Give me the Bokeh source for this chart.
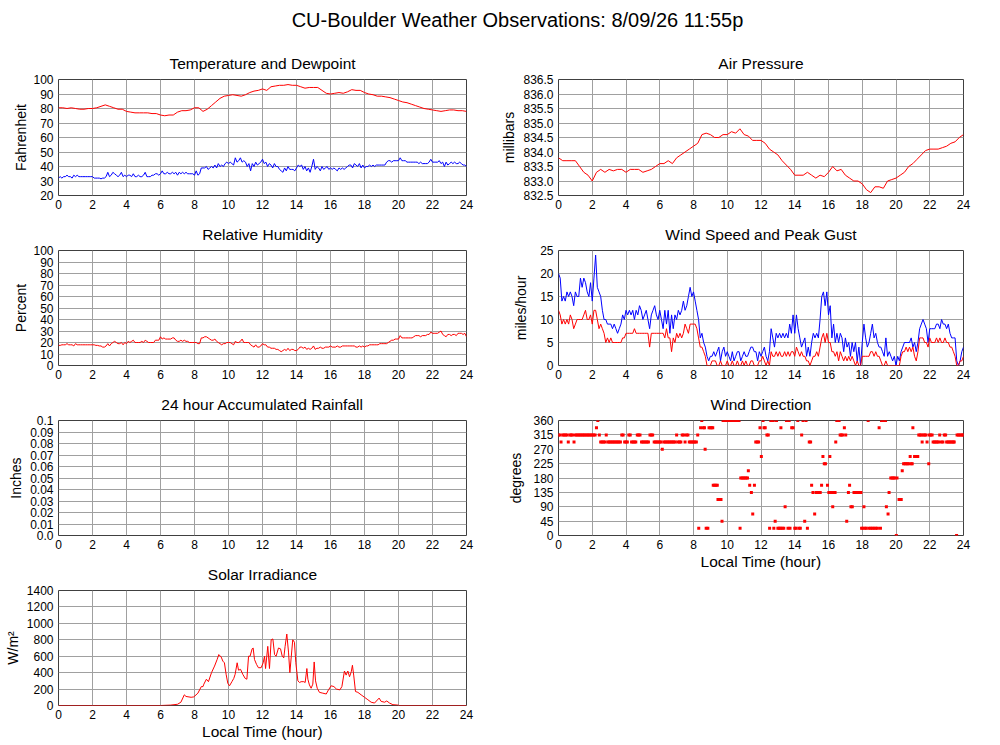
import numpy as np
from bokeh.plotting import figure
from bokeh.layouts import column, row
from bokeh.models import FixedTicker, Range1d, CustomJSTickFormatter, NumeralTickFormatter
from bokeh.core.properties import value
from bokeh.embed import file_html
from bokeh.resources import INLINE

FONT = "Liberation Sans"
RED = "#ff0000"
BLUE = "#0000ff"
GRID = "#a0a0a0"

MAIN_TITLE = "CU-Boulder Weather Observations: 8/09/26 11:55p"
hour_ticks = [0, 2, 4, 6, 8, 10, 12, 14, 16, 18, 20, 22, 24]

# ---------------- data ----------------
# temperature, every 15 minutes (F)
temp_f = [80.5, 80.5, 80, 80.5, 80, 79.5, 79.5, 80,
          80, 80.5, 81.5, 82.5, 81.5, 80.5, 79.5, 79.5,
          78, 77.5, 77, 77, 77, 77, 76.5, 76.5,
          75.5, 75, 75.5, 75.5, 77.5, 78.5, 78.5, 79,
          80.5, 80.5, 78, 79.5, 82, 84.5, 87, 88.5,
          89, 89.5, 89, 88.5, 89.5, 91, 92, 92.5,
          93.5, 92.5, 95, 95.5, 96, 96, 96.5, 96,
          96, 95, 94, 94.5, 94.5, 94.5, 92.5, 90.5,
          90, 90.5, 91, 90.5, 91.5, 93, 92.5, 92.5,
          91, 90, 89.5, 88.5, 88.5, 88, 87.5, 86.5,
          85.5, 84.5, 84, 83, 82, 81, 80, 79.5,
          79, 78.5, 78, 78.5, 79, 79, 78.5, 78.5,
          78]

# dewpoint, every 6 minutes (F)
dewpoint_f = [32, 33, 32, 33, 33, 34, 33, 33, 32, 34,
              33, 34, 33, 33, 33, 33, 33, 33, 33, 33,
              33, 32, 32, 32, 32, 31.5, 32, 32, 33, 36,
              33, 34, 36, 35, 34, 33, 34, 36, 33, 34,
              33, 34, 34, 33, 35, 33, 33, 34, 33, 33,
              34, 36, 33, 33, 33, 34, 34, 35, 35, 34,
              35, 37, 35, 35, 36, 35, 35, 36, 35, 36,
              34, 36, 35, 36, 35, 36, 35, 35, 35, 35,
              34, 37, 34, 35, 39, 39, 39, 40, 38, 39,
              40, 39, 41, 39, 42, 40, 41, 40, 42, 43,
              42, 43, 42, 41, 46, 43, 44, 46, 43, 44,
              43, 40, 42, 37, 42, 40, 43, 41, 42, 43,
              45, 42, 43, 40, 42, 41, 39, 42, 40, 40,
              38, 37, 36, 39, 37, 40, 38, 38, 38, 37,
              39, 41, 40, 41, 38, 40, 37, 39, 36, 40,
              45, 38, 40, 39, 37, 40, 38, 39, 40, 38,
              39, 38, 39, 38, 37, 39, 38, 39, 38, 39,
              40, 41, 41, 39, 42, 41, 40, 42, 39, 41,
              39, 40, 40, 41, 40, 41, 40, 41, 41, 41,
              41, 41, 41, 43, 44, 44, 43, 44, 44, 44,
              44, 46, 44, 44, 44, 43, 43, 43, 43, 43,
              43, 43, 42, 43, 42, 42, 42, 42, 43, 45,
              43, 43, 43, 43, 44, 42, 43, 40, 43, 41,
              42, 43, 42, 43, 42, 42, 43, 42, 41, 41,
              40]

# air pressure, every 15 minutes (mb)
pressure_mb = [833.8, 833.7, 833.7, 833.7, 833.7, 833.5, 833.3, 833.2,
               833.0, 833.3, 833.4, 833.3, 833.4, 833.35, 833.4, 833.4,
               833.3, 833.4, 833.4, 833.4, 833.3, 833.35, 833.4, 833.5,
               833.6, 833.6, 833.7, 833.6, 833.8, 833.9, 834.0, 834.1,
               834.2, 834.3, 834.6, 834.65, 834.6, 834.5, 834.5, 834.6,
               834.6, 834.7, 834.65, 834.8, 834.6, 834.55, 834.4, 834.4,
               834.4, 834.3, 834.1, 834.0, 833.9, 833.7, 833.55, 833.4,
               833.2, 833.2, 833.2, 833.3, 833.2, 833.1, 833.2, 833.15,
               833.3, 833.5, 833.35, 833.4, 833.2, 833.1, 833.0, 833.0,
               832.9, 832.7, 832.6, 832.8, 832.8, 832.75, 833.0, 833.05,
               833.1, 833.2, 833.3, 833.5, 833.6, 833.75, 833.9, 834.05,
               834.1, 834.1, 834.1, 834.15, 834.2, 834.3, 834.35, 834.5,
               834.6]

# relative humidity, every 6 minutes (%)
humidity_pct = [17.5, 17.5, 18, 18, 18, 19, 18, 18, 18, 17,
                19, 18, 18, 18, 18, 18, 18, 18, 18, 18,
                18, 18, 17.5, 17.5, 17, 17, 16, 16, 17, 19,
                17, 19, 20, 21, 20, 19, 19, 20, 18, 20,
                19, 21, 20, 21, 22, 20, 20, 20, 20, 21,
                20, 22, 21, 20, 20, 20, 20, 22, 22, 22,
                25, 23, 24, 23, 23, 23, 23, 24, 24, 22,
                21, 21, 22, 21, 22, 21, 21, 20, 20, 20,
                20, 20, 19, 19, 24, 24, 25, 25, 24, 23,
                22, 22, 23, 21, 20, 19, 18, 19, 19, 20,
                20, 20, 19, 18, 21, 20, 20, 21, 23, 20,
                20, 20, 20, 18, 17, 16, 18, 16, 16, 17,
                19, 18, 18, 16, 16, 15, 15, 15, 14, 14,
                13, 12, 13, 14, 13, 15, 13, 14, 14, 13,
                13, 14, 16, 16, 15, 16, 14, 15, 14, 15,
                17, 14, 15, 15, 16, 15, 15, 16, 16, 16,
                17, 16, 16, 16, 17, 16, 16, 17, 17, 17,
                17, 17, 17, 17, 17, 16, 16, 17, 16, 17,
                16, 17, 17, 18, 18, 18, 18, 18, 18, 19,
                19, 19, 19, 19, 20, 21, 22, 22, 23, 23,
                23, 26, 24, 24, 24, 24, 24, 24, 24, 25,
                26, 26, 26, 25, 26, 26, 26, 27, 27, 29,
                28, 28, 28, 28, 29, 30, 27, 26, 25, 27,
                27, 26, 27, 27, 26, 28, 28, 28, 27, 28,
                25]

# peak gust and wind speed, every 6 minutes (mph)
gust_mph = [20, 19, 14, 15, 14, 16, 15, 16, 15, 13,
            16, 15, 15, 19, 17, 19, 18, 16, 15, 18,
            14, 19, 24, 17, 16, 15, 12, 10, 10, 9,
            9, 9, 8, 9, 8, 7, 8, 9, 11, 10,
            12, 11, 12, 11, 12, 10, 12, 11, 13, 12,
            10, 11, 12, 10, 8, 11, 12, 13, 11, 10,
            12, 10, 8, 12, 9, 12, 7, 11, 8, 11,
            10, 12, 11, 12, 14, 12, 13, 15, 17, 15,
            16, 14, 12, 10, 6, 7, 5, 4, 2, 1,
            2, 2, 3, 2, 3, 4, 1, 3, 4, 2,
            3, 2, 1, 3, 1, 2, 3, 3, 1, 2,
            3, 2, 2, 3, 4, 4, 3, 3, 1, 3,
            2, 3, 4, 2, 1, 3, 8, 6, 4, 7,
            6, 7, 6, 7, 6, 7, 6, 9, 7, 11,
            7, 11, 8, 6, 4, 5, 6, 2, 4, 2,
            5, 7, 6, 7, 6, 10, 15, 16, 13, 16,
            11, 13, 6, 9, 5, 7, 5, 7, 6, 3,
            6, 4, 5, 2, 5, 3, 5, 1, 4, 0,
            5, 9, 6, 4, 5, 7, 9, 6, 7, 5,
            4, 4, 3, 2, 6, 2, 3, 2, 1, 2,
            0, 2, 1, 3, 4, 5, 5, 5, 5, 6,
            4, 5, 3, 5, 8, 9, 10, 9, 8, 5,
            8, 8, 8, 8, 9, 9, 8, 10, 9, 9,
            8, 9, 7, 6, 6, 6, 1, 0, 1, 3,
            4]

speed_mph = [12, 11, 9, 10, 9, 10, 9, 11, 10, 8,
             9, 10, 10, 10, 10, 11, 12, 10, 10, 11,
             9, 12, 12, 10, 8, 9, 8, 7, 5, 6,
             5, 6, 5, 5, 5, 5, 5, 5, 6, 6,
             7, 7, 7, 7, 7, 8, 7, 7, 7, 7,
             7, 7, 7, 7, 4, 7, 7, 7, 7, 7,
             7, 7, 7, 6, 8, 6, 6, 3, 6, 5,
             7, 6, 7, 6, 7, 9, 8, 7, 9, 9,
             9, 9, 8, 6, 4, 4, 3, 2, 0, 0,
             0, 1, 1, 1, 0, 0, 1, 0, 0, 0,
             1, 0, 0, 1, 0, 0, 1, 0, 0, 1,
             0, 1, 0, 0, 1, 1, 0, 0, 0, 1,
             1, 2, 1, 0, 1, 0, 3, 2, 2, 3,
             2, 3, 2, 2, 3, 2, 3, 2, 3, 3,
             2, 4, 3, 2, 3, 2, 2, 1, 1, 0,
             1, 2, 2, 3, 2, 4, 6, 7, 5, 7,
             5, 5, 3, 3, 2, 3, 1, 3, 2, 1,
             2, 1, 2, 1, 2, 1, 0, 1, 0, 0,
             2, 2, 2, 2, 2, 3, 3, 2, 3, 2,
             2, 1, 0, 0, 1, 0, 0, 0, 0, 0,
             0, 0, 0, 2, 3, 3, 4, 3, 4, 3,
             4, 2, 1, 3, 6, 6, 6, 5, 5, 4,
             6, 5, 5, 5, 6, 5, 6, 5, 5, 6,
             5, 5, 4, 4, 3, 2, 0, 0, 1, 1,
             2]

# wind direction observations (hour, degrees)
dir_hour = [0.00, 0.08, 0.15, 0.25, 0.33, 0.42, 0.50, 0.58, 0.67, 0.75, 0.83, 0.92,
            1.00, 1.08, 1.17, 1.25, 1.33, 1.42, 1.50, 1.58, 1.67, 1.75, 1.83, 1.92,
            2.00, 2.08, 2.17, 2.25, 2.33, 2.42, 2.50, 2.58, 2.67, 2.75, 2.83, 2.92,
            3.00, 3.08, 3.17, 3.25, 3.33, 3.42, 3.50, 3.58, 3.67, 3.75, 3.83, 3.92,
            4.00, 4.08, 4.17, 4.25, 4.33, 4.42, 4.50, 4.58, 4.67, 4.75, 4.83, 4.92,
            5.00, 5.08, 5.17, 5.25, 5.33, 5.42, 5.50, 5.58, 5.67, 5.75, 5.83, 5.92,
            6.00, 6.08, 6.15, 6.25, 6.33, 6.42, 6.50, 6.58, 6.67, 6.75, 6.83, 6.92,
            7.00, 7.08, 7.17, 7.25, 7.33, 7.42, 7.50, 7.58, 7.67, 7.75, 7.83, 7.92,
            8.00, 8.08, 8.17, 8.25, 8.31, 8.42, 8.49, 8.58, 8.65, 8.69, 8.75, 8.85, 8.92,
            9.00, 9.08, 9.14, 9.17, 9.25, 9.33, 9.41, 9.45, 9.55, 9.63, 9.69,
            9.75, 9.80, 9.85, 9.90, 9.95, 10.00, 10.05, 10.10, 10.15, 10.20,
            10.25, 10.30, 10.35, 10.40, 10.45, 10.50, 10.55, 10.60, 10.65, 10.70,
            10.76, 10.80, 10.88, 10.96, 11.04, 11.12, 11.20, 11.25, 11.33, 11.43, 11.51, 11.61, 11.69, 11.78, 11.86, 11.94,
            12.02, 12.12, 12.18, 12.25, 12.35, 12.43, 12.51, 12.58, 12.65, 12.73, 12.76, 12.84, 12.92,
            13.00, 13.08, 13.16, 13.18, 13.26, 13.35, 13.43, 13.51, 13.60, 13.67, 13.72, 13.82, 13.90,
            14.00, 14.08, 14.18, 14.25, 14.33, 14.41, 14.49, 14.59, 14.67, 14.75, 14.86, 14.94,
            15.00, 15.08, 15.18, 15.27, 15.35, 15.43, 15.51, 15.59, 15.67, 15.75, 15.82, 15.94,
            16.02, 16.08, 16.10, 16.22, 16.25, 16.33, 16.39, 16.43, 16.49, 16.56, 16.63, 16.69, 16.76, 16.84, 16.94,
            17.02, 17.08, 17.18, 17.25, 17.33, 17.41, 17.51, 17.59, 17.67, 17.75, 17.84, 17.92, 17.96,
            18.04, 18.10, 18.16, 18.24, 18.35, 18.40, 18.50, 18.60, 18.70, 18.80, 18.90,
            19.00, 19.08, 19.14, 19.22, 19.30, 19.38, 19.43, 19.53, 19.59, 19.69, 19.77, 19.85, 19.92,
            20.02, 20.06, 20.18, 20.25, 20.31, 20.37, 20.45, 20.53, 20.60, 20.68, 20.76, 20.84, 20.90, 20.96,
            21.00, 21.10, 21.20, 21.29, 21.35, 21.43, 21.50, 21.55, 21.62, 21.70, 21.78, 21.84, 21.94, 21.98,
            22.06, 22.14, 22.20, 22.28, 22.36, 22.44, 22.52, 22.59, 22.68, 22.78, 22.86, 22.94,
            23.00, 23.08, 23.16, 23.24, 23.32, 23.40, 23.45, 23.59, 23.62, 23.70, 23.78, 23.86, 23.94, 24.00]

dir_deg = [315, 315, 292.5, 315, 315, 315, 315, 292.5, 315, 315, 315, 292.5,
           315, 315, 315, 315, 315, 315, 315, 315, 315, 315, 315, 315,
           315, 315, 315, 337.5, 360, 315, 292.5, 292.5, 292.5, 292.5, 315, 292.5,
           292.5, 292.5, 292.5, 292.5, 292.5, 292.5, 292.5, 292.5, 292.5, 315, 315, 292.5,
           292.5, 292.5, 315, 315, 292.5, 292.5, 292.5, 292.5, 315, 315, 315, 292.5,
           292.5, 292.5, 292.5, 292.5, 292.5, 315, 315, 315, 292.5, 292.5, 292.5, 292.5,
           292.5, 292.5, 270, 292.5, 292.5, 292.5, 292.5, 292.5, 292.5, 292.5, 292.5, 292.5,
           315, 292.5, 292.5, 292.5, 315, 315, 292.5, 315, 315, 292.5, 292.5, 292.5,
           292.5, 292.5, 292.5, 315, 22.5, 337.5, 360, 337.5, 337.5, 270, 22.5, 22.5, 337.5,
           337.5, 337.5, 337.5, 157.5, 157.5, 157.5, 157.5, 112.5, 112.5, 112.5, 45,
           360, 360, 360, 360, 360, 360, 360, 360, 360, 360,
           360, 360, 360, 360, 360, 360, 360, 360, 360, 360,
           22.5, 180, 180, 180, 180, 180, 180, 202.5, 157.5, 135, 67.5, 157.5, 292.5, 292.5, 292.5, 337.5,
           247.5, 360, 337.5, 337.5, 315, 315, 22.5, 360, 360, 360, 22.5, 45, 360,
           22.5, 22.5, 22.5, 337.5, 22.5, 22.5, 90, 360, 22.5, 360, 22.5, 337.5, 337.5,
           22.5, 22.5, 360, 22.5, 22.5, 315, 360, 45, 360, 22.5, 292.5, 292.5,
           157.5, 135, 67.5, 135, 135, 135, 135, 157.5, 247.5, 225, 225, 157.5,
           135, 247.5, 135, 135, 90, 135, 135, 292.5, 360, 360, 360, 315, 315, 315, 337.5,
           315, 45, 135, 157.5, 90, 90, 135, 135, 135, 135, 135, 135, 22.5,
           22.5, 90, 22.5, 22.5, 360, 22.5, 22.5, 22.5, 22.5, 22.5, 22.5,
           337.5, 22.5, 360, 360, 360, 360, 90, 67.5, 135, 180, 180, 180, 180,
           0, 180, 112.5, 112.5, 112.5, 202.5, 225, 225, 225, 225, 225, 247.5, 225, 225,
           337.5, 247.5, 247.5, 247.5, 315, 315, 315, 292.5, 315, 315, 315, 292.5, 225, 315,
           315, 315, 292.5, 292.5, 292.5, 292.5, 292.5, 315, 292.5, 292.5, 315, 315,
           292.5, 292.5, 292.5, 292.5, 292.5, 292.5, 292.5, 0, 315, 315, 315, 315, 315, 315]

# solar irradiance (hour, W/m^2)
solar_hour = [0, 6.0, 6.6, 7.0, 7.2, 7.4, 7.5, 7.8, 7.96, 8.2,
              8.4, 8.5, 8.55, 8.7, 8.82, 9.0, 9.18, 9.33, 9.43, 9.57,
              9.67, 9.76, 9.86, 9.96, 10.06, 10.2, 10.31, 10.39, 10.51, 10.59,
              10.71, 10.84, 10.98, 11.08, 11.18, 11.27, 11.39, 11.45, 11.53, 11.65,
              11.76, 11.92, 12.04, 12.12, 12.18, 12.31, 12.41, 12.51, 12.61, 12.71,
              12.8, 12.94, 13.06, 13.16, 13.25, 13.33, 13.43, 13.53, 13.61, 13.69,
              13.78, 13.88, 13.96, 14.08, 14.18, 14.27, 14.43, 14.51, 14.61, 14.67,
              14.76, 14.86, 14.96, 15.04, 15.12, 15.22, 15.35, 15.55, 15.75, 15.88,
              16.04, 16.2, 16.35, 16.55, 16.67, 16.82, 16.92, 17.02, 17.12, 17.22,
              17.29, 17.37, 17.47, 17.61, 17.8, 18.0, 18.2, 18.39, 18.59, 18.86,
              18.98, 19.18, 19.31, 19.47, 19.67, 19.96, 20.06, 24]
solar_wm2 = [0, 0, 5, 15, 40, 130, 110, 100, 105, 150,
             230, 230, 260, 320, 290, 400, 480, 560, 620, 590,
             540, 520, 380, 270, 240, 290, 330, 380, 520, 430,
             440, 380, 330, 320, 600, 600, 690, 700, 560, 500,
             460, 460, 520, 600, 450, 720, 450, 800, 810, 620,
             600, 700, 690, 600, 580, 720, 870, 650, 400, 590,
             800, 770, 520, 300, 280, 290, 290, 280, 450, 320,
             250, 210, 260, 530, 300, 210, 160, 150, 140, 190,
             240, 230, 200, 190, 230, 420, 370, 420, 350, 410,
             490, 360, 170, 160, 130, 100, 70, 40, 30, 90,
             50, 40, 55, 30, 10, 5, 0, 0]

temp_ticks = [20, 30, 40, 50, 60, 70, 80, 90, 100]
pressure_ticks = [832.5, 833.0, 833.5, 834.0, 834.5, 835.0, 835.5, 836.0, 836.5]
humidity_ticks = [0, 10, 20, 30, 40, 50, 60, 70, 80, 90, 100]
wind_ticks = [0, 5, 10, 15, 20, 25]
rain_ticks = [0.0, 0.01, 0.02, 0.03, 0.04, 0.05, 0.06, 0.07, 0.08, 0.09, 0.1]
dir_ticks = [0, 45, 90, 135, 180, 225, 270, 315, 360]
solar_ticks = [0, 200, 400, 600, 800, 1000, 1200, 1400]

t15 = np.arange(len(temp_f)) * 0.25
t15p = np.arange(len(pressure_mb)) * 0.25
t6 = np.arange(len(dewpoint_f)) * 0.1
t6h = np.arange(len(humidity_pct)) * 0.1
t6w = np.arange(len(gust_mph)) * 0.1
t6s = np.arange(len(speed_mph)) * 0.1


def panel(title, ylabel, ylim, yticks, width, height, left, right, top, bottom,
          xlabel=None, ylabel_standoff=4):
    p = figure(width=width, height=height, x_range=Range1d(0, 24), y_range=Range1d(*ylim),
               output_backend="svg", toolbar_location=None,
               min_border_left=left, min_border_right=right,
               min_border_top=top, min_border_bottom=bottom)
    p.title.text = title
    p.title.align = "center"
    p.title.vertical_align = "middle"
    p.title.text_font = FONT
    p.title.text_font_size = "15.5px"
    p.title.text_font_style = "normal"
    p.title.text_color = "black"
    p.title.standoff = 14
    p.outline_line_color = "#404040"
    p.outline_line_width = 1
    p.background_fill_color = "white"
    p.border_fill_color = "white"
    for ax in (p.xaxis[0], p.yaxis[0]):
        ax.major_tick_out = 0
        ax.major_tick_in = 0
        ax.minor_tick_out = 0
        ax.minor_tick_in = 0
        ax.axis_line_color = None
        ax.major_label_text_font = FONT
        ax.major_label_text_font_size = "12px"
        ax.major_label_text_color = "black"
        ax.major_label_standoff = 4
        ax.axis_label_text_font = FONT
        ax.axis_label_text_font_style = "normal"
        ax.axis_label_text_color = "black"
    xt = FixedTicker(ticks=hour_ticks)
    yt = FixedTicker(ticks=yticks)
    p.xaxis[0].ticker = xt
    p.yaxis[0].ticker = yt
    p.xgrid[0].ticker = xt
    p.ygrid[0].ticker = yt
    p.xgrid.grid_line_color = GRID
    p.ygrid.grid_line_color = GRID
    p.yaxis.axis_label = ylabel
    p.yaxis.axis_label_text_font_size = "14px"
    p.yaxis.axis_label_standoff = ylabel_standoff
    p.yaxis.major_label_standoff = 5
    if xlabel:
        p.xaxis.axis_label = xlabel
        p.xaxis.axis_label_text_font_size = "15.5px"
        p.xaxis.axis_label_standoff = 1
    return p


LW, RW = 498, 480
# left column
p_temp = panel("Temperature and Dewpoint", "Fahrenheit", (20, 100), temp_ticks, LW, 177, 58, 32, 42, 19,
               ylabel_standoff=1)
p_temp.line(t15, temp_f, color=RED, line_width=1)
p_temp.line(t6, dewpoint_f, color=BLUE, line_width=1)

p_rh = panel("Relative Humidity", "Percent", (0, 100), humidity_ticks, LW, 170, 58, 32, 36, 19,
             ylabel_standoff=1)
p_rh.line(t6h, humidity_pct, color=RED, line_width=1)

p_rain = panel("24 hour Accumulated Rainfall", "Inches", (0, 0.1), rain_ticks, LW, 170, 58, 32, 36, 19,
               ylabel_standoff=3)
p_rain.yaxis.formatter = CustomJSTickFormatter(
    code="return tick < 1e-9 ? '0.0' : String(Math.round(tick * 100) / 100);")

p_solar = panel("Solar Irradiance", "W/m\u00b2", (0, 1400), solar_ticks, LW, 189, 58, 32, 36, 38,
                xlabel="Local Time (hour)", ylabel_standoff=3)
p_solar.line(solar_hour, solar_wm2, color=RED, line_width=1)

# right column
p_press = panel("Air Pressure", "millibars", (832.5, 836.5), pressure_ticks, RW, 177, 59, 15, 42, 19,
                ylabel_standoff=3)
p_press.yaxis.formatter = NumeralTickFormatter(format="0.0")
p_press.line(t15p, pressure_mb, color=RED, line_width=1)

p_wind = panel("Wind Speed and Peak Gust", "miles/hour", (0, 25), wind_ticks, RW, 170, 59, 15, 36, 19,
               ylabel_standoff=8)
p_wind.line(t6w, gust_mph, color=BLUE, line_width=1)
p_wind.line(t6s, speed_mph, color=RED, line_width=1)

p_dir = panel("Wind Direction", "degrees", (0, 360), dir_ticks, RW, 189, 59, 15, 36, 38,
              xlabel="Local Time (hour)", ylabel_standoff=6)
p_dir.scatter(dir_hour, dir_deg, marker="square", size=3, fill_color=RED, line_color=None)

# main title strip
p0 = figure(width=LW + RW, height=37, x_range=Range1d(0, LW + RW), y_range=Range1d(0, 37),
            output_backend="svg", toolbar_location=None,
            x_axis_location=None, y_axis_location=None, min_border=0)
p0.outline_line_color = None
p0.grid.visible = False
p0.text(x=[517], y=[18], text=[MAIN_TITLE], text_font=value(FONT), text_font_size="20px",
        text_align="center", text_baseline="middle", text_color="black")

layout = column(p0, row(column(p_temp, p_rh, p_rain, p_solar),
                        column(p_press, p_wind, p_dir)))

with open("out.html", "w") as f:
    f.write(file_html(layout, INLINE))
